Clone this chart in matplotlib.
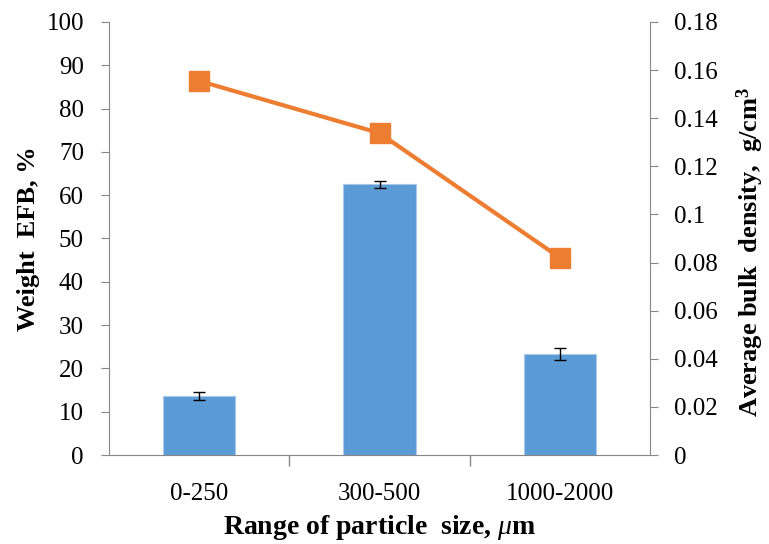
import matplotlib.pyplot as plt
import numpy as np

categories = ['0-250', '300-500', '1000-2000']
weight = [13.7, 62.5, 23.3]
weight_err = [0.9, 0.8, 1.3]
density = [0.1555, 0.1338, 0.0820]

plt.rcParams['font.family'] = ['Liberation Serif', 'DejaVu Serif']
plt.rcParams['mathtext.fontset'] = 'custom'
plt.rcParams['mathtext.rm'] = 'Liberation Serif'
plt.rcParams['mathtext.it'] = 'Liberation Serif:italic'
plt.rcParams['mathtext.bf'] = 'Liberation Serif:bold'

fig = plt.figure(figsize=(7.69, 5.44), dpi=100)
ax = fig.add_axes([0.1417, 0.1636, 0.7036, 0.796])
x = np.arange(len(categories))

ax.bar(x, weight, width=0.4, color='#5b9bd5', edgecolor='#a9c8ea', linewidth=0.8, zorder=2)
ax.errorbar(x, weight, yerr=weight_err, fmt='none', ecolor='black', elinewidth=1,
            capsize=4, capthick=1, zorder=3)

ax.set_xlim(-0.5, 2.5)
ax.set_ylim(0, 100)
ax.set_yticks(range(0, 101, 10))
ax.set_xticks(x)
ax.set_xticklabels(categories)
ax.set_xticks([0.5, 1.5], minor=True)
ax.tick_params(axis='x', which='major', length=0, labelsize=18, pad=20)
ax.tick_params(axis='x', which='minor', length=8, color='#868686', width=1)
ax.tick_params(axis='y', labelsize=18, length=6, color='#868686', direction='out', pad=12)

for s in ['top', 'right']:
    ax.spines[s].set_visible(False)
for s in ['left', 'bottom']:
    ax.spines[s].set_color('#868686')

ax.set_ylabel('Weight  EFB, %', fontsize=19, fontweight='bold', labelpad=5)
ax.set_xlabel('Range of particle  size, $\\mathit{\\mu}$m', fontsize=20, fontweight='bold', labelpad=6)

ax2 = ax.twinx()
ax2.plot(x, density, color='#ed7d31', linewidth=3, marker='s', markersize=15, zorder=4)
ax2.set_ylim(0, 0.18)
ax2.set_yticks(np.arange(0, 0.181, 0.02))
ax2.set_yticklabels(['0', '0.02', '0.04', '0.06', '0.08', '0.1', '0.12', '0.14', '0.16', '0.18'])
ax2.tick_params(axis='y', labelsize=18, length=6, color='#868686', direction='out', pad=11)
for s in ['top', 'left', 'bottom']:
    ax2.spines[s].set_visible(False)
ax2.spines['right'].set_color('#868686')
ax2.set_ylabel('Average bulk  density,  g/cm$^\\mathbf{3}$', fontsize=19, fontweight='bold')
ax2.yaxis.set_label_coords(1.156, 0.47)

fig.savefig('out.png', dpi=100)
